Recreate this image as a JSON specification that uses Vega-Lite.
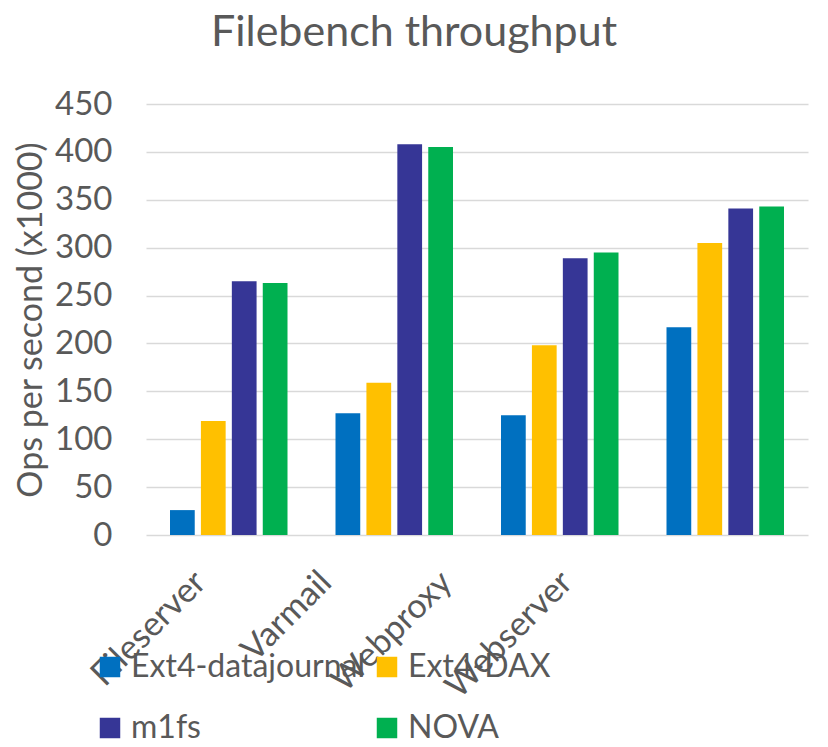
{
  "$schema": "https://vega.github.io/schema/vega-lite/v6.json",
  "width": 662,
  "height": 431,
  "autosize": "none",
  "padding": {"left": 146, "top": 104, "right": 20, "bottom": 212},
  "background": "white",
  "config": {"view": {"stroke": null}},
  "title": {"text": "Filebench throughput", "fontSize": 43, "font": "Lato", "fontWeight": "normal", "color": "#595959", "anchor": "middle", "dx": -63, "offset": 33},
  "data": {"values": [
    {"workload": "Fileserver", "fs": "Ext4-datajournal", "ops": 26},
    {"workload": "Fileserver", "fs": "Ext4-DAX", "ops": 119},
    {"workload": "Fileserver", "fs": "m1fs", "ops": 265},
    {"workload": "Fileserver", "fs": "NOVA", "ops": 263},
    {"workload": "Varmail", "fs": "Ext4-datajournal", "ops": 127},
    {"workload": "Varmail", "fs": "Ext4-DAX", "ops": 159},
    {"workload": "Varmail", "fs": "m1fs", "ops": 408},
    {"workload": "Varmail", "fs": "NOVA", "ops": 405},
    {"workload": "Webproxy", "fs": "Ext4-datajournal", "ops": 125},
    {"workload": "Webproxy", "fs": "Ext4-DAX", "ops": 198},
    {"workload": "Webproxy", "fs": "m1fs", "ops": 289},
    {"workload": "Webproxy", "fs": "NOVA", "ops": 295},
    {"workload": "Webserver", "fs": "Ext4-datajournal", "ops": 217},
    {"workload": "Webserver", "fs": "Ext4-DAX", "ops": 305},
    {"workload": "Webserver", "fs": "m1fs", "ops": 341},
    {"workload": "Webserver", "fs": "NOVA", "ops": 343}
  ]},
  "mark": {"type": "bar"},
  "encoding": {
    "x": {
      "field": "workload", "type": "nominal",
      "sort": ["Fileserver", "Varmail", "Webproxy", "Webserver"],
      "scale": {"paddingInner": 0.29, "paddingOuter": 0.145},
      "axis": {
        "title": null, "labelAngle": -45, "labelAlign": "right", "labelBaseline": "top",
        "labelFontSize": 34, "labelFont": "Lato", "labelColor": "#595959", "labelPadding": 30,
        "labelOffset": {"expr": "datum.value == 'Fileserver' ? -40 : datum.value == 'Varmail' ? -80 : datum.value == 'Webproxy' ? -125 : -170"},
        "domain": false, "ticks": false, "labelOverlap": false
      }
    },
    "xOffset": {"field": "fs", "type": "nominal", "sort": ["Ext4-datajournal", "Ext4-DAX", "m1fs", "NOVA"], "scale": {"paddingInner": 0.2}},
    "y": {
      "field": "ops", "type": "quantitative",
      "scale": {"domain": [0, 450], "nice": false},
      "axis": {
        "values": [0, 50, 100, 150, 200, 250, 300, 350, 400, 450],
        "title": "Ops per second (x1000)", "titleFontSize": 34, "titleFont": "Lato", "titleFontWeight": "normal", "titleColor": "#595959", "titlePadding": 6,
        "labelFontSize": 33, "labelFont": "Lato", "labelColor": "#595959", "labelPadding": 34,
        "domain": false, "ticks": false, "gridColor": "#d9d9d9", "gridWidth": 1.5
      }
    },
    "color": {
      "field": "fs", "type": "nominal",
      "scale": {"domain": ["Ext4-datajournal", "Ext4-DAX", "m1fs", "NOVA"], "range": ["#0070C0", "#FFC000", "#363696", "#00B050"]},
      "legend": {
        "orient": "none", "legendX": -52, "legendY": 547, "direction": "horizontal", "columns": 2,
        "title": null, "symbolType": "square", "symbolSize": 420, "symbolStrokeWidth": 0,
        "labelFontSize": 32, "labelFont": "Lato", "labelColor": "#595959", "labelOffset": 5,
        "columnPadding": 6, "rowPadding": 29, "labelLimit": 400
      }
    }
  }
}
